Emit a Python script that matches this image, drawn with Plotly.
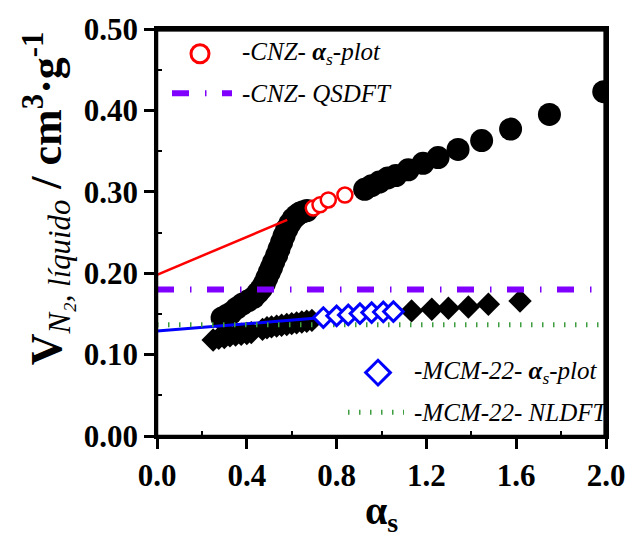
import plotly.graph_objects as go

# ---------------- data ----------------
# CNZ isotherm (alpha_s, V)
cnz_x = [0.29, 0.31, 0.33, 0.355, 0.38, 0.405, 0.43, 0.45, 0.465, 0.478, 0.489, 0.50, 0.51,
         0.52, 0.533, 0.544, 0.555, 0.566, 0.578, 0.592, 0.607, 0.622, 0.637, 0.652, 0.668,
         0.925, 0.956, 0.99, 1.028, 1.064, 1.119, 1.185, 1.252, 1.341, 1.446, 1.575, 1.748, 1.99]
cnz_y = [0.145, 0.148, 0.151, 0.157, 0.162, 0.166, 0.170, 0.176, 0.181, 0.187, 0.194, 0.201, 0.207,
         0.214, 0.222, 0.230, 0.238, 0.246, 0.254, 0.261, 0.267, 0.271, 0.274, 0.2756, 0.277,
         0.303, 0.3075, 0.312, 0.317, 0.320, 0.327, 0.335, 0.342, 0.352, 0.363, 0.377, 0.395, 0.423]
# CNZ points used for the alpha_s-plot fit
cnz_as_x = [0.696, 0.726, 0.763, 0.837]
cnz_as_y = [0.280, 0.284, 0.290, 0.296]
cnz_fit_x = [0.0, 0.58]
cnz_fit_y = [0.198, 0.2655]
cnz_qsdft = 0.180

# MCM-22 isotherm
mcm_x = [0.25, 0.275, 0.30, 0.325, 0.35, 0.375, 0.40, 0.42, 0.47, 0.49, 0.51, 0.533, 0.555,
         0.578, 0.60, 0.622, 0.645, 0.667, 0.69,
         1.134, 1.224, 1.298, 1.387, 1.476, 1.617]
mcm_y = [0.118, 0.120, 0.121, 0.123, 0.124, 0.125, 0.126, 0.127, 0.131, 0.133, 0.134, 0.135, 0.136,
         0.137, 0.138, 0.139, 0.140, 0.141, 0.142,
         0.1537, 0.1557, 0.157, 0.1585, 0.1618, 0.1659]
mcm_as_x = [0.741, 0.80, 0.852, 0.904, 0.956, 1.008, 1.053]
mcm_as_y = [0.1455, 0.1476, 0.1488, 0.1504, 0.1516, 0.1524, 0.1528]
mcm_fit_x = [0.0, 0.741]
mcm_fit_y = [0.129, 0.1455]
mcm_nldft = 0.1366

x_range = [0.0, 2.0]
y_range = [0.0, 0.5]
x_ticks = [0.0, 0.4, 0.8, 1.2, 1.6, 2.0]
x_ticklabels = ["0.0", "0.4", "0.8", "1.2", "1.6", "2.0"]
y_ticks = [0.0, 0.1, 0.2, 0.3, 0.4, 0.5]
y_ticklabels = ["0.00", "0.10", "0.20", "0.30", "0.40", "0.50"]

# ---------------- layout geometry (window pixels) ----------------
W, H = 637, 539
PL, PR, PT, PB = 157, 606, 25, 436   # plot area in window pixels
ML, MT, MR, MB = PL, PT, W - PR, H - PB
PW, PH = PR - PL, PB - PT

def px2x(px):
    return x_range[0] + (px - PL) / PW * (x_range[1] - x_range[0])

def py2y(py):
    return y_range[0] + (PB - py) / PH * (y_range[1] - y_range[0])

def pxp(px):
    return (px - PL) / PW

def pyp(py):
    return (PB - py) / PH

FONT = "Liberation Serif"
PURPLE = "#8000FF"
GREEN = "#3E9E3E"

fig = go.Figure()

# isotherms
fig.add_trace(go.Scatter(x=cnz_x, y=cnz_y, mode="markers",
                         marker=dict(symbol="circle", size=23, color="black"), showlegend=False))
fig.add_trace(go.Scatter(x=mcm_x, y=mcm_y, mode="markers",
                         marker=dict(symbol="diamond", size=18, color="black"), showlegend=False))
# fits
fig.add_trace(go.Scatter(x=cnz_fit_x, y=cnz_fit_y, mode="lines",
                         line=dict(color="#FF0000", width=2.5), showlegend=False))
fig.add_trace(go.Scatter(x=mcm_fit_x, y=mcm_fit_y, mode="lines",
                         line=dict(color="#0000FF", width=3), showlegend=False))
# DFT levels
fig.add_trace(go.Scatter(x=x_range, y=[mcm_nldft] * 2, mode="lines",
                         line=dict(color=GREEN, width=5, dash="1.5px,9.5px"), showlegend=False))
fig.add_trace(go.Scatter(x=x_range, y=[cnz_qsdft] * 2, mode="lines",
                         line=dict(color=PURPLE, width=6, dash="17px,16px,1.5px,15.5px"), showlegend=False))
# alpha_s points
fig.add_trace(go.Scatter(x=cnz_as_x, y=cnz_as_y, mode="markers",
                         marker=dict(symbol="circle", size=15, color="white",
                                     line=dict(color="#FF0000", width=2.5)), showlegend=False))
fig.add_trace(go.Scatter(x=mcm_as_x, y=mcm_as_y, mode="markers",
                         marker=dict(symbol="diamond", size=15, color="white",
                                     line=dict(color="#0000FF", width=3)), showlegend=False))

# top and right frame edges, drawn inside the plot area as line traces
fig.add_trace(go.Scatter(x=x_range, y=[y_range[1], y_range[1]], mode="lines",
                         line=dict(color="black", width=5), showlegend=False, hoverinfo="skip"))
fig.add_trace(go.Scatter(x=[x_range[1], x_range[1]], y=y_range, mode="lines",
                         line=dict(color="black", width=5), showlegend=False, hoverinfo="skip"))

# ---------------- custom legend ----------------
fig.add_trace(go.Scatter(x=[px2x(200)], y=[py2y(50)], mode="markers",
                         marker=dict(symbol="circle", size=18, color="white",
                                     line=dict(color="#FF0000", width=3)), showlegend=False))
fig.add_trace(go.Scatter(x=[px2x(172), px2x(232)], y=[py2y(90)] * 2, mode="lines",
                         line=dict(color=PURPLE, width=6, dash="17px,16px,1.5px,15.5px"), showlegend=False))
fig.add_trace(go.Scatter(x=[px2x(378)], y=[py2y(372)], mode="markers",
                         marker=dict(symbol="diamond", size=19, color="white",
                                     line=dict(color="#0000FF", width=3)), showlegend=False))
fig.add_trace(go.Scatter(x=[px2x(348), px2x(404)], y=[py2y(412)] * 2, mode="lines",
                         line=dict(color=GREEN, width=5, dash="1.5px,9.5px"), showlegend=False))

def ptext(px, py, text, size=25, anchor="left"):
    fig.add_annotation(x=pxp(px), y=pyp(py), xref="paper", yref="paper",
                       text=text, showarrow=False, xanchor=anchor, yanchor="middle",
                       font=dict(family=FONT, size=size, color="black"))

ptext(240, 50, "<i>-CNZ- <b>α</b><sub>s</sub>-plot</i>")
ptext(240, 90, "<i>-CNZ- QSDFT</i>")
ptext(412, 372, "<i>-MCM-22- <b>α</b><sub>s</sub>-plot</i>")
ptext(412, 412, "<i>-MCM-22- NLDFT</i>")

# axis titles
fig.add_annotation(x=pxp(47), y=pyp(196), xref="paper", yref="paper",
                   text="<b>V</b><sub><i>N₂, líquido</i></sub><b> / cm<sup>3</sup>·g<sup>-1</sup></b>",
                   textangle=-90, showarrow=False, xanchor="center", yanchor="middle",
                   font=dict(family=FONT, size=44, color="black"))
fig.add_annotation(x=pxp(381), y=pyp(514), xref="paper", yref="paper",
                   text="<b>α<sub>s</sub></b>", showarrow=False, xanchor="center", yanchor="middle",
                   font=dict(family=FONT, size=40, color="black"))

# plot frame, also as shapes just inside the top and right edges
fig.add_shape(type="rect", xref="paper", yref="paper", x0=0, x1=1, y0=0, y1=1,
              line=dict(color="black", width=2.5), layer="above")
fig.add_shape(type="line", xref="paper", yref="paper", x0=0, x1=1,
              y0=1 - 1.0 / PH, y1=1 - 1.0 / PH,
              line=dict(color="black", width=2.5), layer="above")
fig.add_shape(type="line", xref="paper", yref="paper", x0=1 - 1.0 / PW, x1=1 - 1.0 / PW,
              y0=0, y1=1, line=dict(color="black", width=2.5), layer="above")

axis_common = dict(showline=True, linecolor="black", linewidth=2.5, mirror=True,
                   ticks="outside", ticklen=10, tickwidth=2.5, tickcolor="black",
                   showgrid=False, zeroline=False, tickmode="array",
                   tickfont=dict(family=FONT, size=31, color="black", weight="bold"))

fig.update_xaxes(range=x_range, tickvals=x_ticks, ticktext=x_ticklabels,
                 minor=dict(ticks="inside", tickvals=[0.2, 0.6, 1.0, 1.4, 1.8],
                            ticklen=5, tickwidth=1.5, tickcolor="black"),
                 **axis_common)
fig.update_yaxes(range=y_range, tickvals=y_ticks, ticktext=y_ticklabels,
                 minor=dict(ticks="inside", tickvals=[0.05, 0.15, 0.25, 0.35, 0.45],
                            ticklen=5, tickwidth=1.5, tickcolor="black"),
                 **axis_common)

fig.update_layout(width=W, height=H, margin=dict(l=ML, r=MR, t=MT, b=MB),
                  plot_bgcolor="white", paper_bgcolor="white", showlegend=False)

fig.write_html("out.html", config={"displayModeBar": False},
               post_script="document.documentElement.style.overflow='hidden';"
                           "document.body.style.margin='0';"
                           "document.body.style.overflow='hidden';")
